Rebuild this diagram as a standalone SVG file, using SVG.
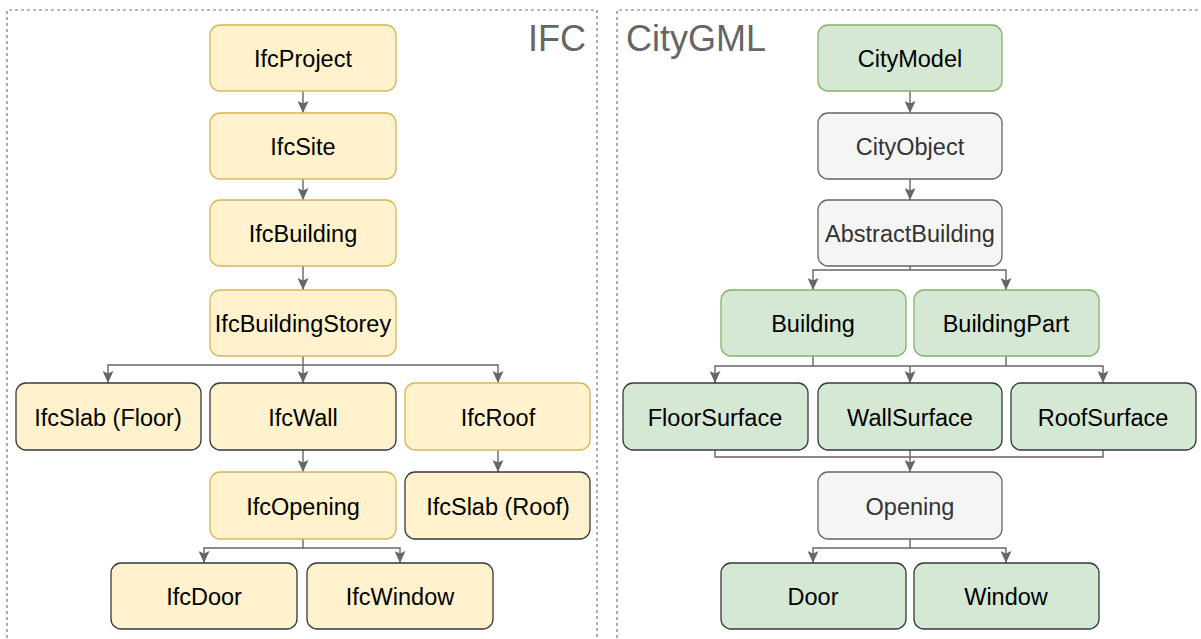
<svg xmlns="http://www.w3.org/2000/svg" width="1201" height="639" viewBox="0 0 1201 639">
<defs>
<style>
.frame{fill:none;stroke:#777777;stroke-width:1.2;stroke-dasharray:3 3}
.title{font-family:"Liberation Sans",Arial,sans-serif;font-size:36px;fill:#666666}
.n rect{stroke-width:1.3}
.y rect{fill:#fff2cc;stroke:#d6b656}
.yd rect{fill:#fff2cc;stroke:#36393d}
.g rect{fill:#d5e8d4;stroke:#82b366}
.gd rect{fill:#d5e8d4;stroke:#36393d}
.s rect{fill:#f5f5f5;stroke:#666666}
.n text{font-family:"Liberation Sans",Arial,sans-serif;font-size:23.5px;fill:#000000;text-anchor:middle}
.s text{fill:#333333}
.c path{fill:none;stroke:#666666;stroke-width:1.4}
</style>
<marker id="arr" viewBox="0 0 12 11" refX="12" refY="5.5" markerWidth="12" markerHeight="11" markerUnits="userSpaceOnUse" orient="auto">
<path d="M0,0 L12,5.5 L0,11 L2.5,5.5 z" fill="#666666"/>
</marker>
</defs>
<rect x="0" y="0" width="1201" height="639" fill="#ffffff"/>
<path class="frame" d="M7,650 V10 H597 V650"/>
<path class="frame" d="M617,650 V10 H1210"/>
<text class="title" x="586" y="51" text-anchor="end">IFC</text>
<text class="title" x="626" y="51">CityGML</text>

<g id="connectors" class="c">
<path d="M303,91 V113" marker-end="url(#arr)"/>
<path d="M303,179 V200" marker-end="url(#arr)"/>
<path d="M303,266 V290" marker-end="url(#arr)"/>
<path d="M303,356 V383" marker-end="url(#arr)"/>
<path d="M303,365 H108 V383" marker-end="url(#arr)"/>
<path d="M303,365 H498 V383" marker-end="url(#arr)"/>
<path d="M303,450 V472" marker-end="url(#arr)"/>
<path d="M498,450 V472" marker-end="url(#arr)"/>
<path d="M303,539 V548 H204 V563" marker-end="url(#arr)"/>
<path d="M303,548 H400 V563" marker-end="url(#arr)"/>

<path d="M910,91 V113" marker-end="url(#arr)"/>
<path d="M910,179 V200" marker-end="url(#arr)"/>
<path d="M910,266 V270 H813 V290" marker-end="url(#arr)"/>
<path d="M910,270 H1006 V290" marker-end="url(#arr)"/>
<path d="M813,356 V366 H715 V383" marker-end="url(#arr)"/>
<path d="M813,366 H1103 V383" marker-end="url(#arr)"/>
<path d="M1006,356 V366"/>
<path d="M910,366 V383" marker-end="url(#arr)"/>
<path d="M715,450 V457 H1103 V450"/>
<path d="M910,450 V472" marker-end="url(#arr)"/>
<path d="M910,539 V548 H813 V563" marker-end="url(#arr)"/>
<path d="M910,548 H1006 V563" marker-end="url(#arr)"/>
</g>

<g id="ifcproject" class="n y"><rect x="210" y="25" width="186" height="66" rx="10"/><text x="303" y="67">IfcProject</text></g>
<g id="ifcsite" class="n y"><rect x="210" y="113" width="186" height="66" rx="10"/><text x="303" y="155">IfcSite</text></g>
<g id="ifcbuilding" class="n y"><rect x="210" y="200" width="186" height="66" rx="10"/><text x="303" y="242">IfcBuilding</text></g>
<g id="ifcbuildingstorey" class="n y"><rect x="210" y="290" width="186" height="66" rx="10"/><text x="303" y="332">IfcBuildingStorey</text></g>
<g id="ifcslabfloor" class="n yd"><rect x="16" y="383" width="185" height="67" rx="10"/><text x="108" y="426">IfcSlab (Floor)</text></g>
<g id="ifcwall" class="n yd"><rect x="210" y="383" width="186" height="67" rx="10"/><text x="303" y="426">IfcWall</text></g>
<g id="ifcroof" class="n y"><rect x="405" y="383" width="185" height="67" rx="10"/><text x="498" y="426">IfcRoof</text></g>
<g id="ifcopening" class="n y"><rect x="210" y="472" width="186" height="67" rx="10"/><text x="303" y="515">IfcOpening</text></g>
<g id="ifcslabroof" class="n yd"><rect x="405" y="472" width="185" height="67" rx="10"/><text x="498" y="515">IfcSlab (Roof)</text></g>
<g id="ifcdoor" class="n yd"><rect x="111" y="563" width="186" height="66" rx="10"/><text x="204" y="605">IfcDoor</text></g>
<g id="ifcwindow" class="n yd"><rect x="307" y="563" width="186" height="66" rx="10"/><text x="400" y="605">IfcWindow</text></g>

<g id="citymodel" class="n g"><rect x="818" y="25" width="184" height="66" rx="10"/><text x="910" y="67">CityModel</text></g>
<g id="cityobject" class="n s"><rect x="818" y="113" width="184" height="66" rx="10"/><text x="910" y="155">CityObject</text></g>
<g id="abstractbuilding" class="n s"><rect x="818" y="200" width="184" height="66" rx="10"/><text x="910" y="242">AbstractBuilding</text></g>
<g id="building" class="n g"><rect x="721" y="290" width="185" height="66" rx="10"/><text x="813" y="332">Building</text></g>
<g id="buildingpart" class="n g"><rect x="914" y="290" width="185" height="66" rx="10"/><text x="1006" y="332">BuildingPart</text></g>
<g id="floorsurface" class="n gd"><rect x="623" y="383" width="185" height="67" rx="10"/><text x="715" y="426">FloorSurface</text></g>
<g id="wallsurface" class="n gd"><rect x="818" y="383" width="184" height="67" rx="10"/><text x="910" y="426">WallSurface</text></g>
<g id="roofsurface" class="n gd"><rect x="1011" y="383" width="185" height="67" rx="10"/><text x="1103" y="426">RoofSurface</text></g>
<g id="opening" class="n s"><rect x="818" y="472" width="184" height="67" rx="10"/><text x="910" y="515">Opening</text></g>
<g id="door" class="n gd"><rect x="721" y="563" width="185" height="66" rx="10"/><text x="813" y="605">Door</text></g>
<g id="window" class="n gd"><rect x="914" y="563" width="185" height="66" rx="10"/><text x="1006" y="605">Window</text></g>
</svg>
